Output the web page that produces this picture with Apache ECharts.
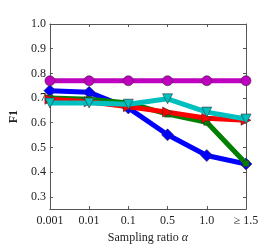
<!DOCTYPE html>
<html><head><meta charset="utf-8">
<script src="https://cdn.jsdelivr.net/npm/echarts@6/dist/echarts.min.js"></script>
<style>html,body{margin:0;padding:0;background:#fff}#c{width:274px;height:249px}</style>
</head><body><div id="c"></div>
<script>
var categories = ['0.001', '0.01', '0.1', '0.5', '1.0', '≥ 1.5'];
var magenta = [0.77, 0.77, 0.77, 0.77, 0.77, 0.77];
var blue = [0.73, 0.723, 0.66, 0.551, 0.467, 0.433];
var green = [0.70, 0.695, 0.68, 0.635, 0.602, 0.435];
var red = [0.695, 0.685, 0.665, 0.643, 0.618, 0.61];
var cyan = [0.68, 0.68, 0.675, 0.697, 0.643, 0.615];
var yTicks = [0.3, 0.4, 0.5, 0.6, 0.7, 0.8, 0.9, 1.0];

var font = 'Liberation Serif';
var axisCol = '#555';
function mk(name, data, color, symbol, size, z, rot) {
  return {name: name, type: 'line', data: data, symbol: symbol, symbolSize: size, symbolRotate: rot || 0, z: z,
    lineStyle: {color: color, width: 5}, itemStyle: {color: color, borderColor: '#333', borderWidth: 0.6},
    animation: false};
}
var chart = echarts.init(document.getElementById('c'), null, {renderer: 'canvas'});
chart.setOption({
  animation: false,
  grid: {left: 27, right: 28, top: 24, bottom: 33},
  xAxis: [{
    type: 'category', data: categories, boundaryGap: false,
    axisLine: {lineStyle: {color: axisCol, width: 1}},
    axisTick: {inside: true, length: 3, interval: 0, lineStyle: {color: axisCol}},
    axisLabel: {fontFamily: font, fontSize: 12, color: '#222', margin: 6, interval: 0},
    name: 'Sampling ratio {i|α}', nameLocation: 'middle', nameGap: 21,
    nameTextStyle: {fontFamily: font, fontSize: 12, color: '#222', rich: {i: {fontFamily: font, fontStyle: 'italic', fontSize: 12, color: '#222'}}}
  }, {
    type: 'category', data: categories, boundaryGap: false, position: 'top',
    axisLine: {lineStyle: {color: axisCol, width: 1}},
    axisTick: {inside: true, length: 3, interval: 0, lineStyle: {color: axisCol}},
    axisLabel: {show: false}
  }],
  yAxis: [{
    type: 'value', min: 0.25, max: 1.0, interval: 0.05,
    splitLine: {show: false},
    axisLine: {show: true, lineStyle: {color: axisCol, width: 1}},
    axisTick: {show: true, inside: true, length: 3, customValues: yTicks, lineStyle: {color: axisCol}},
    axisLabel: {fontFamily: font, fontSize: 12, color: '#222', margin: 4, customValues: yTicks,
      formatter: function (v) { return v.toFixed(1); }},
    name: 'F1', nameLocation: 'middle', nameGap: 18,
    nameTextStyle: {fontFamily: font, fontSize: 12, fontWeight: 'bold', color: '#222'}
  }, {
    type: 'value', min: 0.25, max: 1.0, interval: 0.05, position: 'right',
    splitLine: {show: false},
    axisLine: {show: true, lineStyle: {color: axisCol, width: 1}},
    axisTick: {show: true, inside: true, length: 3, customValues: yTicks, lineStyle: {color: axisCol}},
    axisLabel: {show: false}
  }],
  series: [
    mk('blue', blue, '#0000ff', 'diamond', 12, 2),
    mk('green', green, '#008000', 'rect', 6, 3),
    mk('red', red, '#ff0000', 'triangle', 10, 4, -90),
    mk('cyan', cyan, '#00bfbf', 'triangle', 10, 5, 180),
    mk('magenta', magenta, '#bf00bf', 'circle', 10, 6)
  ]
});
</script></body></html>
